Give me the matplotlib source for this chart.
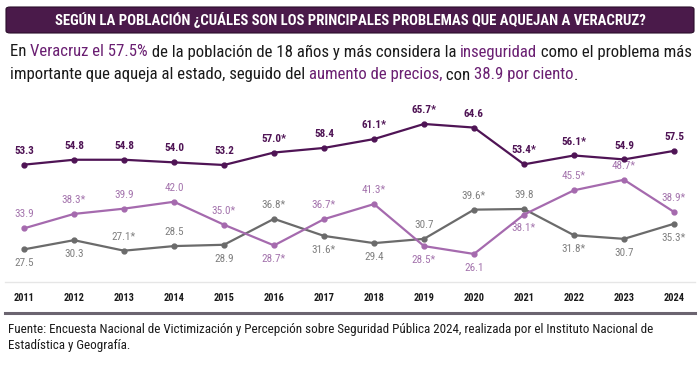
import matplotlib
matplotlib.use("Agg")
import matplotlib.pyplot as plt
from matplotlib.patches import FancyBboxPatch
from matplotlib import font_manager

years = [2011, 2012, 2013, 2014, 2015, 2016, 2017, 2018, 2019, 2020, 2021, 2022, 2023, 2024]
inseguridad = [53.3, 54.8, 54.8, 54.0, 53.2, 57.0, 58.4, 61.1, 65.7, 64.6, 53.4, 56.1, 54.9, 57.5]
inseg_lbl = ["53.3", "54.8", "54.8", "54.0", "53.2", "57.0*", "58.4", "61.1*", "65.7*", "64.6", "53.4*", "56.1*", "54.9", "57.5"]
precios = [33.9, 38.3, 39.9, 42.0, 35.0, 28.7, 36.7, 41.3, 28.5, 26.1, 38.1, 45.5, 48.7, 38.9]
precios_lbl = ["33.9", "38.3*", "39.9", "42.0", "35.0*", "28.7*", "36.7*", "41.3*", "28.5*", "26.1", "38.1*", "45.5*", "48.7*", "38.9*"]
precios_pos = ["a", "a", "a", "a", "a", "b", "a", "a", "b", "b", "b", "a", "a", "a"]
tercero = [27.5, 30.3, 27.1, 28.5, 28.9, 36.8, 31.6, 29.4, 30.7, 39.6, 39.8, 31.8, 30.7, 35.3]
tercero_lbl = ["27.5", "30.3", "27.1*", "28.5", "28.9", "36.8*", "31.6*", "29.4", "30.7", "39.6*", "39.8", "31.8*", "30.7", "35.3*"]
tercero_pos = ["b", "b", "a", "a", "b", "a", "b", "b", "a", "a", "a", "b", "b", "b"]

title = "SEGÚN LA POBLACIÓN ¿CUÁLES SON LOS PRINCIPALES PROBLEMAS QUE AQUEJAN A VERACRUZ?"
line1 = [("En ", "k"), ("Veracruz el 57.5%", "p"), (" de la población de 18 años y más considera la ", "k"),
         ("inseguridad", "p"), (" como el problema más", "k")]
line2 = [("importante que aqueja al estado, seguido del ", "k"), ("aumento de precios,", "p"),
         (" con ", "k"), ("38.9 por ciento", "p"), (".", "k")]
footer1 = "Fuente: Encuesta Nacional de Victimización y Percepción sobre Seguridad Pública 2024, realizada por el Instituto Nacional de"
footer2 = "Estadística y Geografía."

names = {f.name for f in font_manager.fontManager.ttflist}
FONT = "DejaVu Sans"
for cand in ["Liberation Sans Narrow", "Roboto Condensed", "Open Sans Condensed", "Roboto", "Liberation Sans"]:
    if cand in names:
        FONT = cand
        break
plt.rcParams["font.family"] = [FONT, "DejaVu Sans"]

C_DARK = "#4f1455"
C_LAV = "#a56aae"
C_GRAY = "#6b6b6b"
C_LAV_T = "#a474ad"
C_GRAY_T = "#808080"
C_TXT_P = "#6a1f72"

W, H = 700, 369
fig = plt.figure(figsize=(7, 3.69), dpi=100)
renderer = fig.canvas.get_renderer()

def width_px(t):
    return t.get_window_extent(renderer=renderer).width

def fit(t, target):
    t.set_fontsize(t.get_fontsize() * target / width_px(t))

# Title box
box = FancyBboxPatch((6 / W, 1 - 33 / H), 688 / W, 26 / H,
                     boxstyle="round,pad=0,rounding_size=0.006",
                     transform=fig.transFigure, facecolor="#4a1a4a",
                     edgecolor="#2a0d2a", linewidth=0.8)
fig.patches.append(box)
tt = fig.text(0.5, 1 - 20 / H, title, color="white", fontsize=11, fontweight="bold",
              ha="center", va="center")
fit(tt, 590)

# Subtitle with coloured segments: find size so line1 spans target width
def colored_line(segments, x0, y0, size):
    x = x0
    for txt, c in segments:
        col = "#1a1a1a" if c == "k" else C_TXT_P
        t = fig.text(x, y0, txt, color=col, fontsize=size, ha="left", va="center")
        x += width_px(t) / fig.bbox.width

probe = fig.text(0, 0, "".join(s for s, _ in line1), fontsize=12)
sub_size = 12 * 680 / width_px(probe)
probe.remove()
colored_line(line1, 10 / W, 1 - 52 / H, sub_size)
colored_line(line2, 10 / W, 1 - 75 / H, sub_size)

# Chart axes
ax = fig.add_axes([5 / W, 1 - 282 / H, 690 / W, 182 / H])
x_left = 2011 - 19 * 0.02
x_right = 2024 + 21 * 0.02
ax.set_xlim(x_left, x_right)
ax.set_ylim(17.56, 73.0)

ax.plot(years, tercero, color=C_GRAY, lw=1.6, marker="o", ms=3.5, zorder=3)
ax.plot(years, precios, color=C_LAV, lw=1.6, marker="o", ms=3.5, zorder=4)
ax.plot(years, inseguridad, color=C_DARK, lw=1.6, marker="o", ms=3.5, zorder=5)

off = 10
lfs = 8
for x, v, l in zip(years, inseguridad, inseg_lbl):
    ax.annotate(l, (x, v), xytext=(0, off), textcoords="offset points",
                ha="center", va="center", fontsize=lfs, color=C_DARK, fontweight="bold")
for x, v, l, p in zip(years, precios, precios_lbl, precios_pos):
    ax.annotate(l, (x, v), xytext=(0, off if p == "a" else -off), textcoords="offset points",
                ha="center", va="center", fontsize=lfs, color=C_LAV_T)
for x, v, l, p in zip(years, tercero, tercero_lbl, tercero_pos):
    ax.annotate(l, (x, v), xytext=(0, off if p == "a" else -off), textcoords="offset points",
                ha="center", va="center", fontsize=lfs, color=C_GRAY_T)

for s in ["top", "left", "right"]:
    ax.spines[s].set_visible(False)
ax.spines["bottom"].set_color("#e6e6e6")
ax.spines["bottom"].set_linewidth(1)
ax.set_yticks([])
ax.set_xticks(years)
ax.set_xticklabels([str(y) for y in years], fontsize=7.5, fontweight="bold", color="#1a1a1a")
ax.tick_params(axis="x", length=0, pad=8)
ax.patch.set_alpha(0)

# Dark rule
fig.add_artist(plt.Line2D([5 / W, 695 / W], [1 - 313 / H, 1 - 313 / H],
                          transform=fig.transFigure, color="#6b6470", lw=2.2))

f1 = fig.text(8 / W, 1 - 329 / H, footer1, fontsize=10, color="#1a1a1a", ha="left", va="center")
fit(f1, 638)
fig.text(8 / W, 1 - 346 / H, footer2, fontsize=f1.get_fontsize(), color="#1a1a1a",
         ha="left", va="center")

fig.savefig("out.png", dpi=100)
